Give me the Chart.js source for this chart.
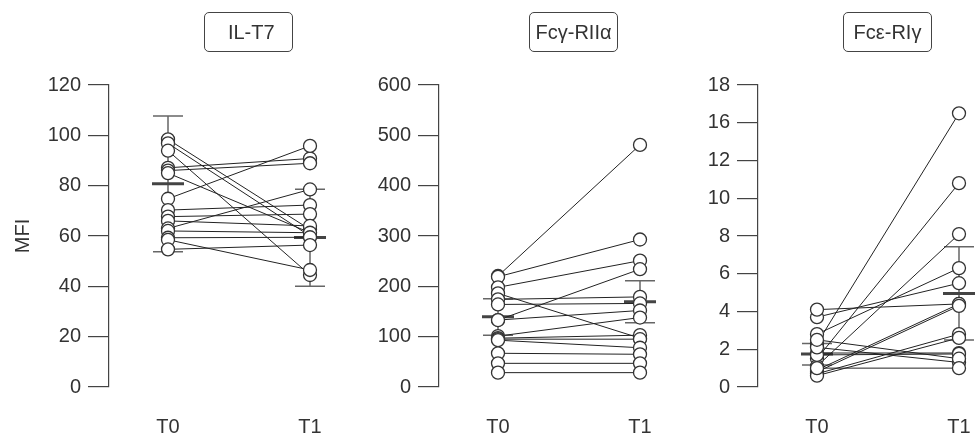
<!DOCTYPE html>
<html>
<head>
<meta charset="utf-8">
<script src="https://cdn.jsdelivr.net/npm/chart.js@4.4.1/dist/chart.umd.min.js"></script>
<style>
  body { margin: 0; background: #fff; }
  #wrap { position: relative; width: 975px; height: 435px; overflow: hidden; font-family: "Liberation Sans", Arial, sans-serif; }
  canvas { position: absolute; top: 0; }
  .title {
    position: absolute; top: 12px; height: 38px; width: 87px;
    border: 1px solid #444; border-radius: 5px;
    font-size: 20px; color: #333; line-height: 38px; text-align: center;
  }
</style>
</head>
<body>
<div id="wrap">
  <canvas id="p1" width="330" height="435" style="left:0px"></canvas>
  <canvas id="p2" width="330" height="435" style="left:330px"></canvas>
  <canvas id="p3" width="326" height="435" style="left:649px"></canvas>
  <div class="title" style="left:204px">&nbsp;IL-T7</div>
  <div class="title" style="left:529px">Fcγ-RIIα</div>
  <div class="title" style="left:843px">Fcε-RIγ</div>
</div>
<script>
const timepoints = ['T0', 'T1'];

// IL-T7 (MFI), paired subjects
const iltT0 = [98.4, 96.8, 93.9, 87.1, 86.0, 85.0, 74.8, 70.3, 67.7, 66.0, 63.0, 62.0, 59.3, 58.5, 54.7];
const iltT1 = [62.6, 60.0, 44.5, 90.8, 88.9, 61.3, 95.8, 72.3, 68.7, 64.0, 78.5, 61.3, 59.5, 46.5, 56.4];
const iltMean = [80.8, 59.4];
const iltLow = [53.7, 40.0];
const iltHigh = [107.7, 78.6];

// Fcg-RIIa
const fcgT0 = [220.5, 219, 198, 186, 174, 164, 133, 133, 101, 97, 95, 93, 67, 47, 28.5];
const fcgT1 = [481, 293, 251, 97, 179, 166, 234, 152, 138, 103, 95, 78, 65, 47, 28.5];
const fcgMean = [139.7, 169.5];
const fcgLow = [102.6, 127.8];
const fcgHigh = [175.5, 211];

// Fce-RIg: values in axis steps, the printed tick labels skip 14
const fceT0 = [2.3, 1.5, 1.1, 2.8, 3.7, 4.1, 0.9, 0.8, 0.7, 0.6, 1.8, 1.7, 2.1, 2.5, 1.0];
const fceT1 = [14.5, 10.8, 8.1, 6.3, 5.5, 4.4, 4.4, 4.3, 2.8, 2.6, 1.8, 1.75, 1.3, 1.5, 1.0];
const fceMean = [1.75, 4.96];
const fceLow = [1.17, 2.49];
const fceHigh = [2.31, 7.43];
const fceTickLabels = ['0', '2', '4', '6', '8', '10', '12', '16', '18'];

const FONT = { family: '"Liberation Sans", Arial, sans-serif', size: 20 };

function errorBars(mean, low, high) {
  return {
    id: 'errorBars',
    beforeDatasetsDraw(chart) {
      const { ctx, scales: { x, y } } = chart;
      ctx.save();
      for (let i = 0; i < 2; i++) {
        const px = x.getPixelForValue(i);
        const yl = y.getPixelForValue(low[i]);
        const yh = y.getPixelForValue(high[i]);
        const ym = y.getPixelForValue(mean[i]);
        ctx.strokeStyle = '#666';
        ctx.lineWidth = 1.5;
        ctx.beginPath();
        ctx.moveTo(px, yl); ctx.lineTo(px, yh);
        ctx.moveTo(px - 15, yl); ctx.lineTo(px + 15, yl);
        ctx.moveTo(px - 15, yh); ctx.lineTo(px + 15, yh);
        ctx.stroke();
        ctx.strokeStyle = '#444';
        ctx.lineWidth = 3;
        ctx.beginPath();
        ctx.moveTo(px - 16, ym); ctx.lineTo(px + 16, ym);
        ctx.stroke();
      }
      ctx.restore();
    }
  };
}

function buildPanel(id, t0, t1, mean, low, high, yMax, yStep, tickLabels, yTitle, xMax) {
  const lines = t0.map((v, i) => ({
    data: [{ x: 0, y: v }, { x: 1, y: t1[i] }],
    showLine: true,
    borderColor: '#222',
    borderWidth: 1,
    pointRadius: 0,
    order: 2
  }));
  const points = {
    data: t0.map(v => ({ x: 0, y: v })).concat(t1.map(v => ({ x: 1, y: v }))),
    pointRadius: 6.5,
    pointBackgroundColor: '#fff',
    pointBorderColor: '#333',
    pointBorderWidth: 1.3,
    order: 0
  };
  return new Chart(document.getElementById(id), {
    type: 'scatter',
    data: { datasets: lines.concat([points]) },
    options: {
      responsive: false,
      animation: false,
      devicePixelRatio: 1,
      layout: { autoPadding: false, padding: { top: 85, left: 0, right: 0, bottom: 0 } },
      plugins: { legend: { display: false }, tooltip: { enabled: false } },
      scales: {
        x: {
          type: 'linear',
          min: -0.4155,
          max: xMax,
          grid: { display: false },
          border: { display: false },
          afterBuildTicks: s => { s.ticks = [{ value: 0 }, { value: 1 }]; },
          afterFit: s => { s.height = 48; s.paddingLeft = 0; s.paddingRight = 0; },
          ticks: {
            padding: 20,
            color: '#333',
            font: FONT,
            callback: v => timepoints[v]
          }
        },
        y: {
          min: 0,
          max: yMax,
          afterFit: s => { s.width = 109; s.paddingTop = 0; s.paddingBottom = 0; },
          grid: { drawOnChartArea: false, tickLength: 21, color: '#444', lineWidth: 1.2 },
          border: { display: true, color: '#444', width: 1.2 },
          title: yTitle ? { display: true, text: yTitle, color: '#333', font: FONT, padding: 11 } : { display: false },
          ticks: {
            stepSize: yStep,
            padding: 7,
            color: '#333',
            font: FONT,
            callback: tickLabels ? (v, i) => tickLabels[i] : v => v
          }
        }
      }
    },
    plugins: [errorBars(mean, low, high)]
  });
}

buildPanel('p1', iltT0, iltT1, iltMean, iltLow, iltHigh, 120, 20, null, 'MFI', 1.1408);
buildPanel('p2', fcgT0, fcgT1, fcgMean, fcgLow, fcgHigh, 600, 100, null, null, 1.1408);
buildPanel('p3', fceT0, fceT1, fceMean, fceLow, fceHigh, 16, 2, fceTickLabels, null, 1.1127);
</script>
</body>
</html>
